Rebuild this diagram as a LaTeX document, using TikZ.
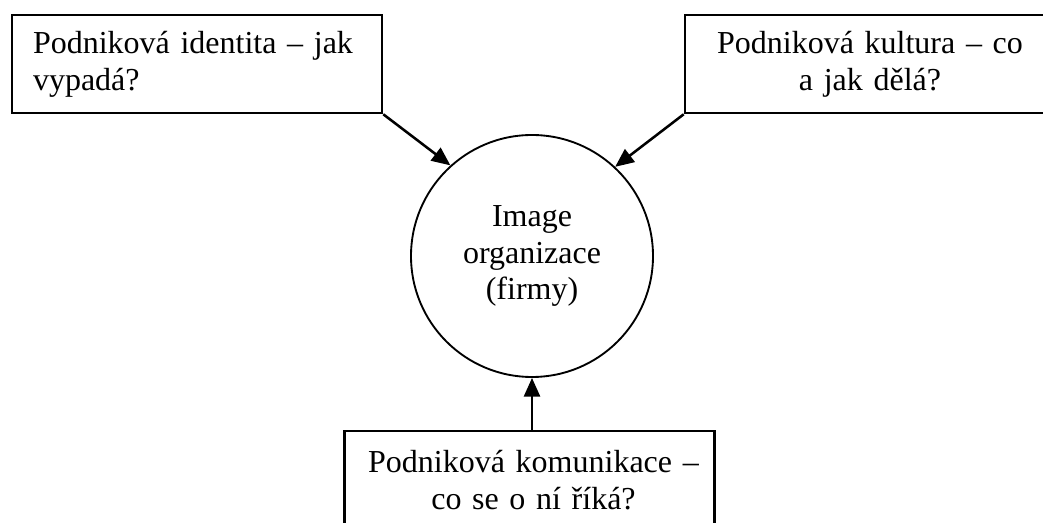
\documentclass[tikz,border=0pt]{standalone}
\usepackage{fontspec}
\setmainfont{Liberation Serif}
\usetikzlibrary{arrows.meta}
\begin{document}
\begin{tikzpicture}[x=0.75pt,y=-0.75pt,
  txt/.style={font=\fontsize{24pt}{27.7pt}\selectfont},
  box/.style={txt, draw, line width=1.9pt, rectangle, text width=246pt,
    minimum width=277.5pt, minimum height=73.5pt, inner xsep=15.75pt, inner ysep=0pt},
  hub/.style={txt, draw, circle, line width=1.4pt, minimum size=181.5pt,
    inner sep=0pt, align=center},
  feed/.style={line width=1.9pt, -{Triangle[length=14pt,width=12pt]}}]
\useasboundingbox (0,0) rectangle (1043,523);
\clip (0,0) rectangle (1043,523);

% central circle
\node[hub] (img) at (532,256) {Image\\organizace\\(firmy)};

% the three surrounding boxes
\node[box, align=left] (ident) at (197,64)
  {\makebox[246pt][s]{Podniková identita – jak}\\vypadá?};
\node[box, align=center] (kult) at (870,64)
  {Podniková kultura – co\\a jak dělá?};
\node[box, align=center, text width=264pt, inner xsep=6.75pt] (komu) at (529.5,480)
  {\hspace*{6pt}Podniková komunikace –\\\hspace*{6pt}co se o ní říká?};

% connectors into the circle
\draw[feed] (ident.south east) -- (img.132.4);
\draw[feed] (kult.south west) -- (img.47.6);
\draw[feed] (img.south |- komu.north) -- (img.south);
\end{tikzpicture}
\end{document}
